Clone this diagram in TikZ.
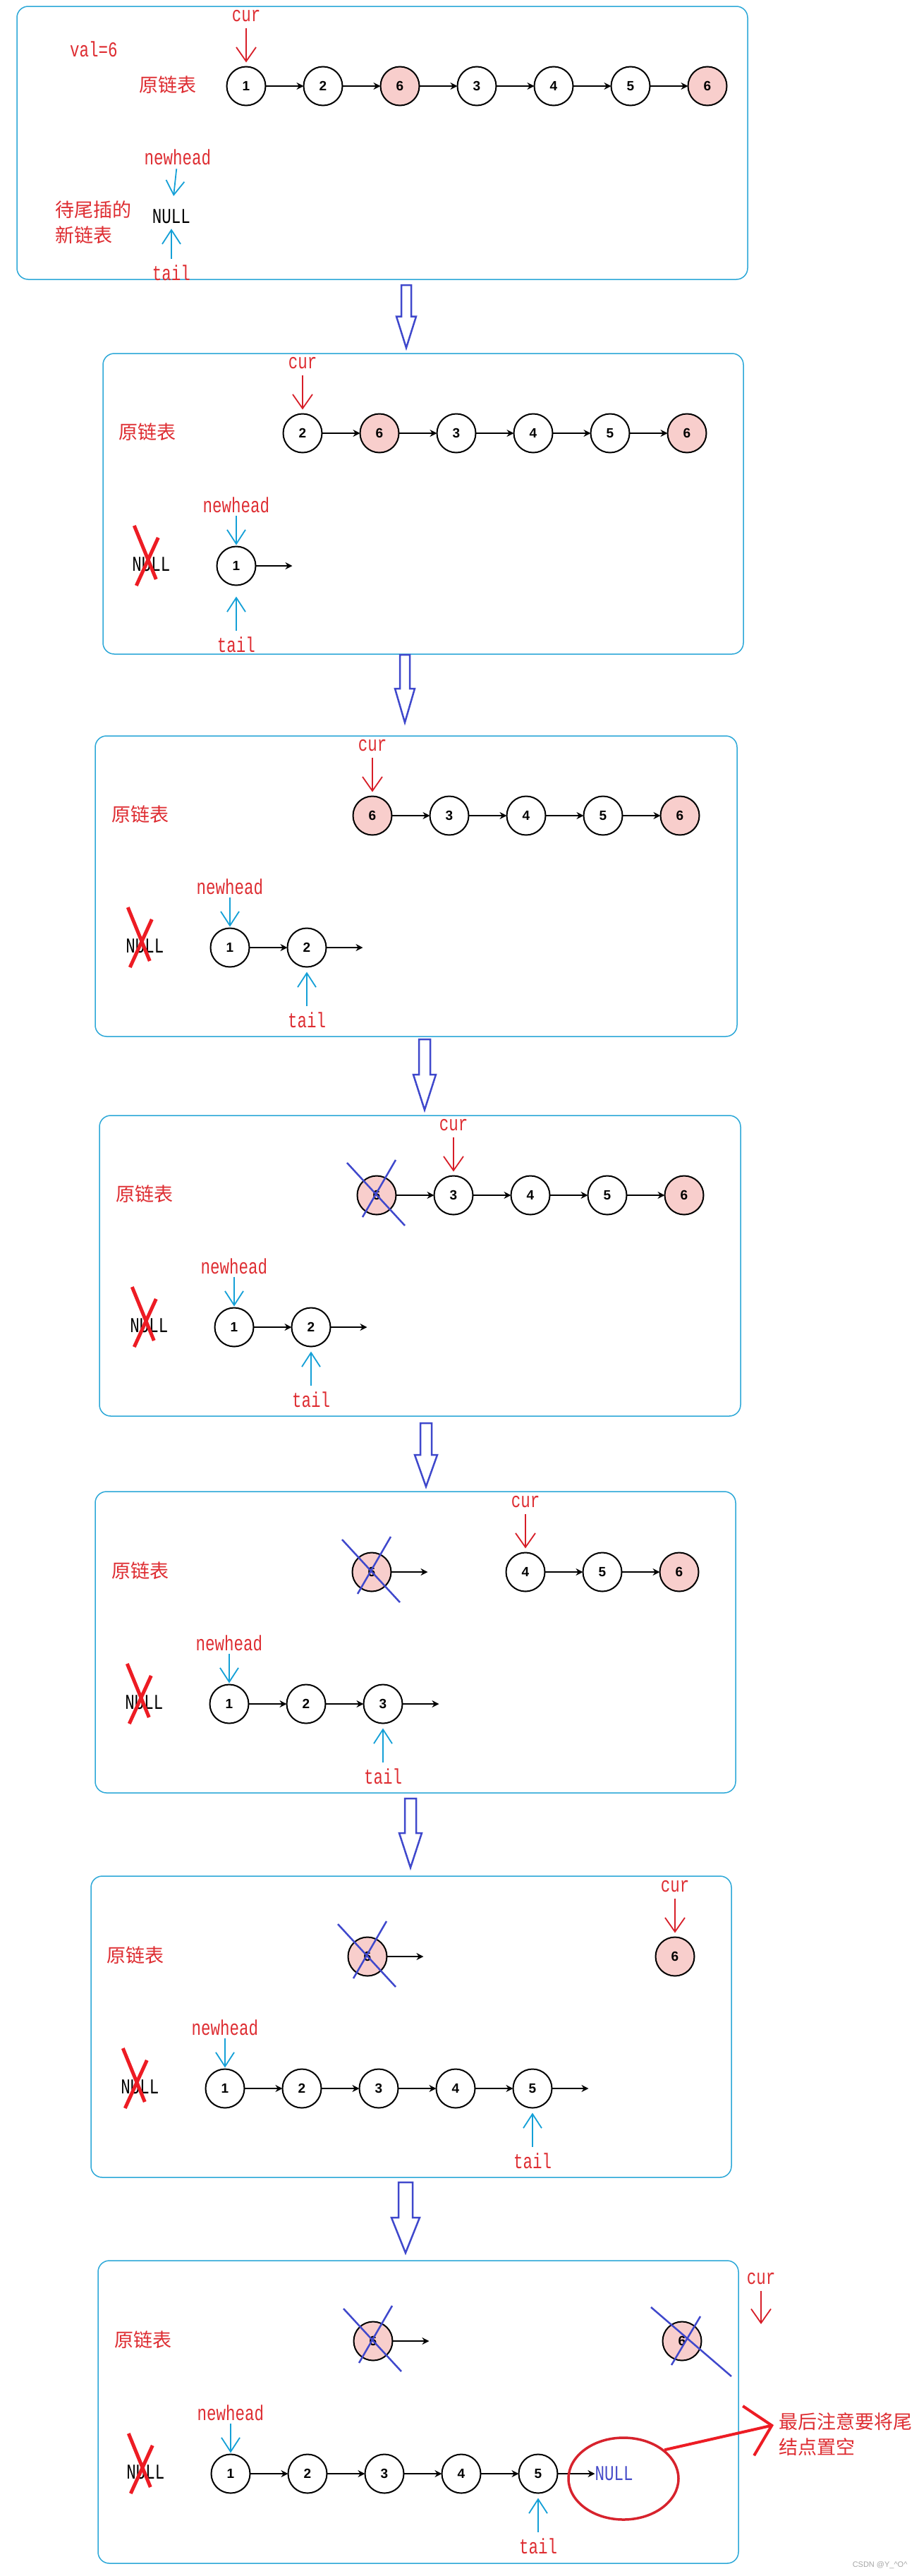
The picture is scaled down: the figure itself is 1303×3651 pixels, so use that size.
\documentclass[tikz,border=0pt]{standalone}
\usepackage{fontspec}
\setmainfont{Liberation Serif}
\newfontfamily\cjkfont{Noto Sans CJK SC}
\newfontfamily\tagfont{Liberation Mono}[FakeStretch=0.75]
\newfontfamily\digitfont{Liberation Sans}
\usetikzlibrary{arrows.meta, positioning, shapes.geometric}

\definecolor{boxblue}{RGB}{45,168,216}
\definecolor{ptrcyan}{RGB}{20,160,215}
\definecolor{labelred}{RGB}{222,45,50}
\definecolor{curred}{RGB}{215,30,40}
\definecolor{flowblue}{RGB}{63,72,204}
\definecolor{dupfill}{RGB}{248,206,204}
\definecolor{strikered}{RGB}{237,28,36}
\definecolor{ringred}{RGB}{215,35,45}
\definecolor{nullblue}{RGB}{70,75,200}

\newcommand\cnsize{\fontsize{27pt}{36pt}\selectfont}
\newcommand\tagsize{\fontsize{30pt}{36pt}\selectfont}
\newcommand\digitsize{\fontsize{19pt}{22pt}\selectfont}

% hollow step arrow: x, top y, length, half width of the shaft
\newcommand\flowarrow[4]{%
  \draw[flow] (#1-#4,#2) -- (#1+#4,#2) -- (#1+#4,#2+0.5*#3) -- (#1+2*#4,#2+0.5*#3)
    -- (#1,#2+#3) -- (#1-2*#4,#2+0.5*#3) -- (#1-#4,#2+0.5*#3) -- cycle;}
% red strike over the old NULL
\newcommand\strikenull[1]{%
  \draw[strike] ([shift={(-24,-55)}]#1.center) -- ([shift={(7,21)}]#1.center)
    ([shift={(10,-38)}]#1.center) -- ([shift={(-21,30)}]#1.center);}
% blue cross over a removed node
\newcommand\crossout[1]{%
  \draw[cross] ([shift={(-42,-46)}]#1.center) -- ([shift={(40,43)}]#1.center)
    ([shift={(27,-50)}]#1.center) -- ([shift={(-20,31)}]#1.center);}

\begin{document}
\begin{tikzpicture}[
    x=1pt, y=-1pt,
    panel/.style={draw=boxblue, line width=1.5pt, rounded corners=16pt},
    flow/.style={draw=flowblue, line width=2.5pt, line join=miter, fill=white},
    nd/.style={circle, draw, line width=2pt, minimum size=55pt, inner sep=0pt, outer sep=0pt, font=\digitfont\bfseries\digitsize},
    dupnd/.style={nd, fill=dupfill},
    tag/.style={text=labelred, font=\tagfont\tagsize, inner sep=0pt},
    nulltext/.style={font=\tagfont\tagsize, inner sep=0pt},
    cn/.style={text=labelred, font=\cjkfont\cnsize, inner sep=0pt},
    link/.style={-{Stealth[length=10pt, width=10pt]}, line width=2pt},
    curptr/.style={draw=curred, line width=1.8pt, -{Straight Barb[length=20pt, width=28pt, line width=1.8pt]}, shorten <=9pt, shorten >=6pt},
    headptr/.style={draw=ptrcyan, line width=1.8pt, -{Straight Barb[length=20pt, width=26pt, line width=1.8pt]}, shorten <=3pt, shorten >=2pt},
    tailptr/.style={headptr, shorten <=9pt, shorten >=7pt},
    strike/.style={draw=strikered, line width=5pt},
    cross/.style={draw=flowblue, line width=2.5pt}
]
\useasboundingbox (0,0) rectangle (1303,3651);
\fill[white] (0,0) rectangle (1303,3651);

% step 1
\draw[panel] (24,9) rectangle (1060,396);
\node[tag] (val) at (133,70) {val=6};
\node[cn] (orig1) at (238,120) {原链表};
\node[nd] (o1a) at (349,122) {1};
\node[nd, right=54pt of o1a] (o1b) {2};
\node[dupnd, right=54pt of o1b] (o1c) {6};
\node[nd, right=54pt of o1c] (o1d) {3};
\node[nd, right=54pt of o1d] (o1e) {4};
\node[nd, right=54pt of o1e] (o1f) {5};
\node[dupnd, right=54pt of o1f] (o1g) {6};
\foreach \u/\v in {o1a/o1b, o1b/o1c, o1c/o1d, o1d/o1e, o1e/o1f, o1f/o1g}
  \draw[link] (\u) -- (\v);
\node[tag, above=64pt of o1a] (cur1) {cur};
\draw[curptr] (cur1) -- (o1a);
\node[tag] (head1) at (252,223) {newhead};
\node[nulltext] (null1) at (243,307) {NULL};
\node[cn, align=left, anchor=west] (wait1) at (78,315) {待尾插的\\新链表};
\node[tag] (tail1) at (243,387) {tail};
\draw[headptr, shorten <=5pt, shorten >=19pt] (head1) -- (null1);
\draw[tailptr] (tail1) -- (null1);

\flowarrow{576}{404}{89}{7}

% step 2
\draw[panel] (146,501) rectangle (1054,927);
\node[cn] (orig2) at (209,612) {原链表};
\node[nd] (o2a) at (429,614) {2};
\node[dupnd, right=54pt of o2a] (o2b) {6};
\node[nd, right=54pt of o2b] (o2c) {3};
\node[nd, right=54pt of o2c] (o2d) {4};
\node[nd, right=54pt of o2d] (o2e) {5};
\node[dupnd, right=54pt of o2e] (o2f) {6};
\foreach \u/\v in {o2a/o2b, o2b/o2c, o2c/o2d, o2d/o2e, o2e/o2f}
  \draw[link] (\u) -- (\v);
\node[tag, above=64pt of o2a] (cur2) {cur};
\draw[curptr] (cur2) -- (o2a);
\node[nd] (n2a) at (335,802) {1};
\coordinate[right=52pt of n2a] (n2end);
\draw[link] (n2a) -- (n2end);
\node[nulltext, left=66pt of n2a, yshift=2pt] (null2) {NULL};
\strikenull{null2}
\node[tag, above=47pt of n2a] (head2) {newhead};
\node[tag, below=73pt of n2a] (tail2) {tail};
\draw[headptr] (head2) -- (n2a);
\draw[tailptr, shorten >=16pt] (tail2) -- (n2a);

\flowarrow{574}{928}{96}{7}

% step 3
\draw[panel] (135,1043) rectangle (1045,1469);
\node[cn] (orig3) at (199,1154) {原链表};
\node[dupnd] (o3a) at (528,1156) {6};
\node[nd, right=54pt of o3a] (o3b) {3};
\node[nd, right=54pt of o3b] (o3c) {4};
\node[nd, right=54pt of o3c] (o3d) {5};
\node[dupnd, right=54pt of o3d] (o3e) {6};
\foreach \u/\v in {o3a/o3b, o3b/o3c, o3c/o3d, o3d/o3e}
  \draw[link] (\u) -- (\v);
\node[tag, above=64pt of o3a] (cur3) {cur};
\draw[curptr] (cur3) -- (o3a);
\node[nd] (n3a) at (326,1343) {1};
\node[nd, right=54pt of n3a] (n3b) {2};
\coordinate[right=52pt of n3b] (n3end);
\draw[link] (n3a) -- (n3b);
\draw[link] (n3b) -- (n3end);
\node[nulltext, left=66pt of n3a, yshift=2pt] (null3) {NULL};
\strikenull{null3}
\node[tag, above=47pt of n3a] (head3) {newhead};
\node[tag, below=64pt of n3b] (tail3) {tail};
\draw[headptr] (head3) -- (n3a);
\draw[tailptr] (tail3) -- (n3b);

\flowarrow{602}{1473}{100}{8}

% step 4
\draw[panel] (141,1581) rectangle (1050,2007);
\node[cn] (orig4) at (205,1692) {原链表};
\node[dupnd] (o4a) at (534,1694) {6};
\node[nd, right=54pt of o4a] (o4b) {3};
\node[nd, right=54pt of o4b] (o4c) {4};
\node[nd, right=54pt of o4c] (o4d) {5};
\node[dupnd, right=54pt of o4d] (o4e) {6};
\foreach \u/\v in {o4a/o4b, o4b/o4c, o4c/o4d, o4d/o4e}
  \draw[link] (\u) -- (\v);
\crossout{o4a}
\node[tag, above=64pt of o4b] (cur4) {cur};
\draw[curptr] (cur4) -- (o4b);
\node[nd] (n4a) at (332,1881) {1};
\node[nd, right=54pt of n4a] (n4b) {2};
\coordinate[right=52pt of n4b] (n4end);
\draw[link] (n4a) -- (n4b);
\draw[link] (n4b) -- (n4end);
\node[nulltext, left=66pt of n4a, yshift=2pt] (null4) {NULL};
\strikenull{null4}
\node[tag, above=47pt of n4a] (head4) {newhead};
\node[tag, below=64pt of n4b] (tail4) {tail};
\draw[headptr] (head4) -- (n4a);
\draw[tailptr] (tail4) -- (n4b);

\flowarrow{604}{2017}{90}{8}

% step 5
\draw[panel] (135,2114) rectangle (1043,2541);
\node[cn] (orig5) at (199,2226) {原链表};
\node[dupnd] (o5a) at (527,2228) {6};
\coordinate[right=52pt of o5a] (o5end);
\draw[link] (o5a) -- (o5end);
\crossout{o5a}
\node[nd] (o5b) at (745,2228) {4};
\node[nd, right=54pt of o5b] (o5c) {5};
\node[dupnd, right=54pt of o5c] (o5d) {6};
\foreach \u/\v in {o5b/o5c, o5c/o5d}
  \draw[link] (\u) -- (\v);
\node[tag, above=64pt of o5b] (cur5) {cur};
\draw[curptr] (cur5) -- (o5b);
\node[nd] (n5a) at (325,2415) {1};
\node[nd, right=54pt of n5a] (n5b) {2};
\node[nd, right=54pt of n5b] (n5c) {3};
\coordinate[right=52pt of n5c] (n5end);
\foreach \u/\v in {n5a/n5b, n5b/n5c, n5c/n5end}
  \draw[link] (\u) -- (\v);
\node[nulltext, left=66pt of n5a, yshift=2pt] (null5) {NULL};
\strikenull{null5}
\node[tag, above=47pt of n5a] (head5) {newhead};
\node[tag, below=64pt of n5c] (tail5) {tail};
\draw[headptr] (head5) -- (n5a);
\draw[tailptr] (tail5) -- (n5c);

\flowarrow{582}{2549}{98}{8}

% step 6
\draw[panel] (129,2659) rectangle (1037,3086);
\node[cn] (orig6) at (192,2771) {原链表};
\node[dupnd] (o6a) at (521,2773) {6};
\coordinate[right=52pt of o6a] (o6end);
\draw[link] (o6a) -- (o6end);
\crossout{o6a}
\node[dupnd] (o6b) at (957,2773) {6};
\node[tag, above=64pt of o6b] (cur6) {cur};
\draw[curptr] (cur6) -- (o6b);
\node[nd] (n6a) at (319,2960) {1};
\node[nd, right=54pt of n6a] (n6b) {2};
\node[nd, right=54pt of n6b] (n6c) {3};
\node[nd, right=54pt of n6c] (n6d) {4};
\node[nd, right=54pt of n6d] (n6e) {5};
\coordinate[right=52pt of n6e] (n6end);
\foreach \u/\v in {n6a/n6b, n6b/n6c, n6c/n6d, n6d/n6e, n6e/n6end}
  \draw[link] (\u) -- (\v);
\node[nulltext, left=66pt of n6a, yshift=2pt] (null6) {NULL};
\strikenull{null6}
\node[tag, above=47pt of n6a] (head6) {newhead};
\node[tag, below=64pt of n6e] (tail6) {tail};
\draw[headptr] (head6) -- (n6a);
\draw[tailptr] (tail6) -- (n6e);

\flowarrow{575}{3093}{100}{10}

% step 7
\draw[panel] (139,3204) rectangle (1047,3633);
\node[cn] (orig7) at (203,3316) {原链表};
\node[dupnd] (o7a) at (529,3318) {6};
\coordinate[right=52pt of o7a] (o7end);
\draw[link] (o7a) -- (o7end);
\crossout{o7a}
\node[dupnd] (o7b) at (967,3318) {6};
\draw[cross] ([shift={(-44,-48)}]o7b.center) -- ([shift={(70,50)}]o7b.center)
  ([shift={(26,-35)}]o7b.center) -- ([shift={(-15,34)}]o7b.center);
\node[tag] (cur7) at (1079,3230) {cur};
\coordinate (cur7end) at (1079,3300);
\draw[curptr] (cur7) -- (cur7end);
\node[nd] (n7a) at (327,3506) {1};
\node[nd, right=54pt of n7a] (n7b) {2};
\node[nd, right=54pt of n7b] (n7c) {3};
\node[nd, right=54pt of n7c] (n7d) {4};
\node[nd, right=54pt of n7d] (n7e) {5};
\node[nulltext, text=nullblue, right=53pt of n7e] (null7b) {NULL};
\foreach \u/\v in {n7a/n7b, n7b/n7c, n7c/n7d, n7d/n7e, n7e/null7b}
  \draw[link] (\u) -- (\v);
\node[nulltext, left=66pt of n7a, yshift=2pt] (null7) {NULL};
\strikenull{null7}
\node[tag, above=47pt of n7a] (head7) {newhead};
\node[tag, below=64pt of n7e] (tail7) {tail};
\draw[headptr] (head7) -- (n7a);
\draw[tailptr] (tail7) -- (n7e);
\node[ellipse, draw=ringred, line width=3.5pt, minimum width=156pt, minimum height=116pt] (ring) at (884,3513) {};
\node[cn, align=left, anchor=west] (note) at (1104,3450) {最后注意要将尾\\结点置空};
\draw[draw=strikered, line width=4pt, -{Straight Barb[length=34pt, width=72pt, line width=4pt]}]
  (ring.35) -- ([shift={(-7,-13)}]note.west);
\node[font=\digitfont\fontsize{11pt}{13pt}\selectfont, text=gray!70, anchor=east] (mark) at (1290,3636) {CSDN @Y\_\textasciicircum O\textasciicircum};
\end{tikzpicture}
\end{document}
